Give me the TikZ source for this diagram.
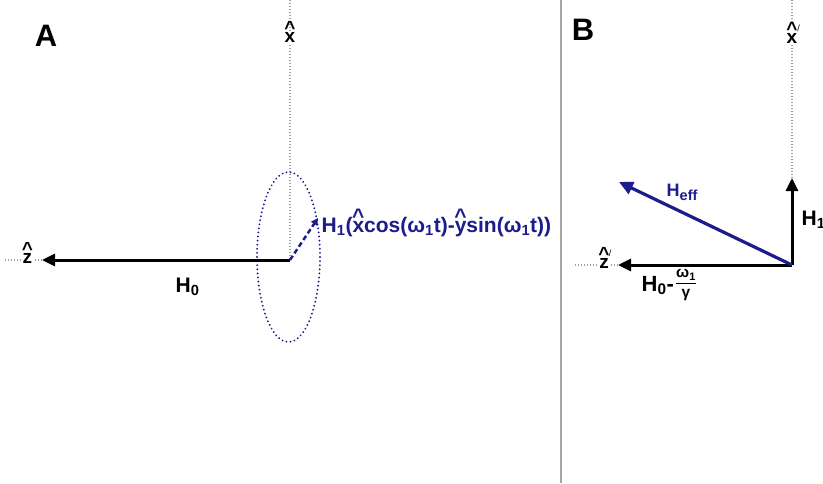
\documentclass[tikz,border=0pt]{standalone}
\usepackage{fontspec}
\setmainfont{Liberation Sans}
\usepackage{amsmath}
\usetikzlibrary{arrows.meta}
\definecolor{navy}{RGB}{28,28,140}
\newcommand\hatl[1]{{\ooalign{#1\cr\hidewidth\raisebox{0.40em}{\textasciicircum}\hidewidth\cr}}}
\newcommand\primemk{\raisebox{0.62em}{\fontsize{9}{9}\selectfont\mdseries /}}
\newcommand\fs[1]{\fontsize{#1}{#1}\selectfont}
\begin{document}
\begin{tikzpicture}[x=1pt,y=-1pt,
  axisline/.style={draw=gray!75,line width=1.2pt,dash pattern=on 1pt off 2pt},
  lbl/.style={font=\bfseries, inner sep=0.5pt},
  vec/.style={line width=3pt,-{Triangle[length=13pt,width=12pt]}},
  panel/.style={inner sep=0pt,font=\bfseries\fs{31}}]
\useasboundingbox (0,0) rectangle (823,483);
% coordinates
\coordinate (OA) at (290,260);
\coordinate (zA) at (42,260);
\coordinate (zAend) at (5,260);
\coordinate (xAtop) at (290,0);
\coordinate (H1tip) at (318,218);
\coordinate (OB) at (792,265);
\coordinate (zB) at (618,265);
\coordinate (zBend) at (575,265);
\coordinate (xBtop) at (792,0);
\coordinate (H1Btip) at (792,178);
\coordinate (Hefftip) at (619,182);
\coordinate (sepT) at (561,0);
\coordinate (sepB) at (561,483);
% separator
\draw[draw=gray!70,line width=2pt] (sepT) -- (sepB);
% axis lines
\draw[axisline] (xAtop) -- (OA);
\draw[axisline] (zAend) -- (zA);
\draw[axisline] (xBtop) -- (OB);
\draw[axisline] (zBend) -- (zB);
% ellipse
\draw[navy,line width=2pt,dash pattern=on 0.1pt off 4pt,line cap=round] (288.5,257) ellipse [x radius=31.5, y radius=85];
% panel labels
\node[panel] (labA) at (46,36) {A};
\node[panel] (labB) at (583,30) {B};
% axis labels
\node[lbl,fill=white,anchor=base,font=\bfseries\fs{19}] (xA) at (290,42) {\hatl{x}};
\node[lbl,fill=white,anchor=base,font=\bfseries\fs{19}] (zAl) at (27.5,263.5) {\hatl{z}};
\node[lbl,fill=white,anchor=base,font=\bfseries\fs{19}] (xB) at (792,43) {\hatl{x}\rlap{\primemk}};
\node[lbl,fill=white,anchor=base,font=\bfseries\fs{19}] (zBl) at (604,268) {\hatl{z}\rlap{\primemk}};
% vectors A
\draw[vec] (OA) -- (zA);
\draw[navy,line width=2.4pt,dash pattern=on 5pt off 3pt,-{Triangle[length=7pt,width=7pt]}] (OA) -- (H1tip);
\node[lbl,anchor=base west,font=\bfseries\fs{21}] (H0A) at (175,292) {H\textsubscript{0}};
\node[lbl,navy,anchor=base west,font=\bfseries\fs{21}] (H1A) at (321,232) {H\textsubscript{1}(\hatl{x}cos(ω\textsubscript{1}t)-\hatl{y}sin(ω\textsubscript{1}t))};
% vectors B
\draw[vec] (OB) -- (H1Btip);
\draw[vec] (OB) -- (zB);
\draw[navy,line width=3.2pt,-{Triangle[length=14pt,width=13pt]}] (OB) -- (Hefftip);
\node[lbl,anchor=base west,font=\bfseries\fs{21}] (H1B) at (801,225) {H\textsubscript{1}};
\node[lbl,anchor=base west,font=\bfseries\fs{22}] (H0B) at (641,291) {H\textsubscript{0}-};
\node[lbl,font=\bfseries\fs{15.5}] (frac) at (686,285) {$\genfrac{}{}{0.9pt}{0}{\text{ω\textsubscript{1}}}{\text{γ}}$};
\node[lbl,navy,anchor=base west,font=\bfseries\fs{18}] (Heff) at (666,196) {H\textsubscript{\fs{14.5}eff}};
\end{tikzpicture}
\end{document}
